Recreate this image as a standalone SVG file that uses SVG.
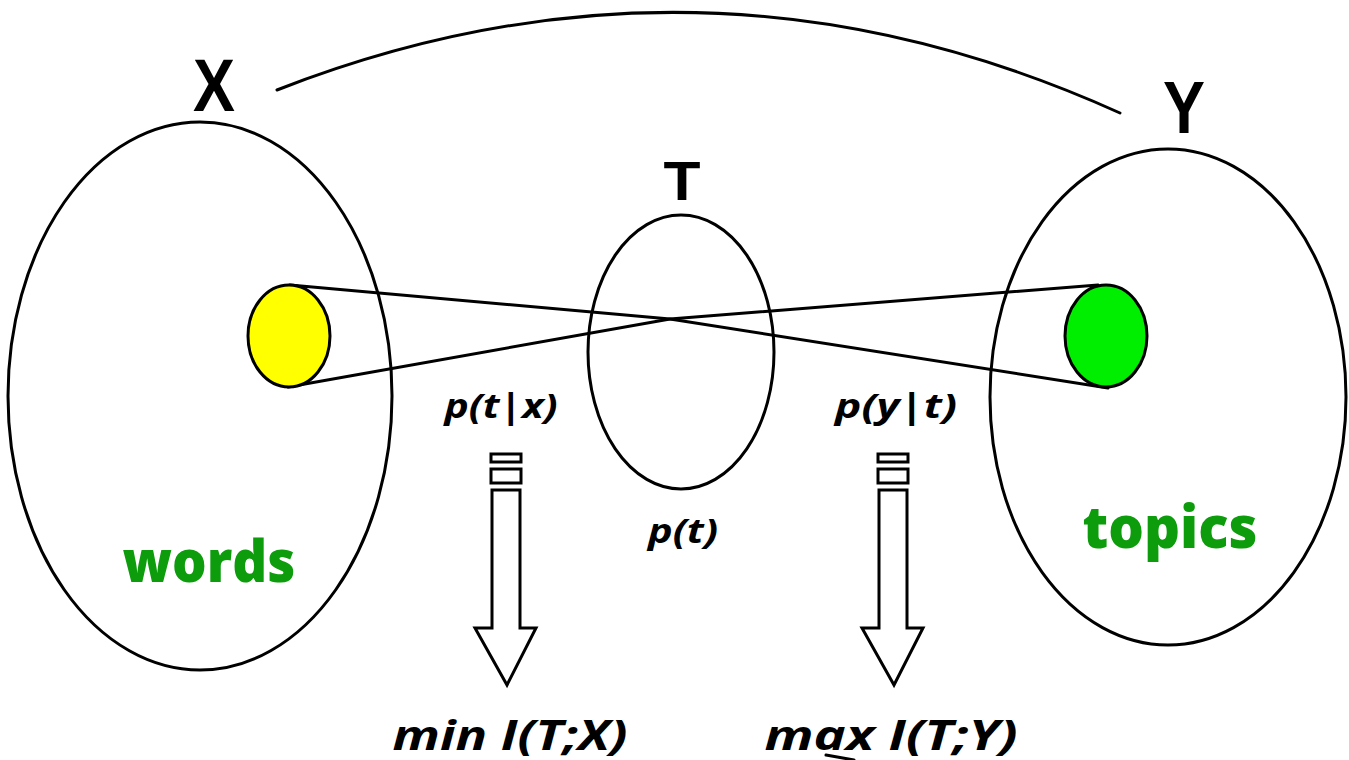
<svg xmlns="http://www.w3.org/2000/svg" width="1349" height="760" viewBox="0 0 1349 760">
  <style>
    .ln { fill: none; stroke: #000; stroke-width: 3; stroke-linejoin: round; stroke-linecap: round; }
    .set { fill: #fff; stroke: #000; stroke-width: 3; }
    .big { font-family: "Liberation Sans", Arial, sans-serif; font-weight: bold; text-anchor: middle; fill: #000; }
    .grn { font-family: "Open Sans", "Liberation Sans", sans-serif; font-weight: 800; font-size: 58px; text-anchor: middle; fill: #0c9c0c; }
    .prob { font-family: "Open Sans", "Liberation Sans", sans-serif; font-weight: bold; font-style: italic; font-size: 34px; text-anchor: middle; fill: #000; }
    .obj { font-family: "Open Sans", "Liberation Sans", sans-serif; font-weight: bold; font-style: italic; font-size: 42px; text-anchor: middle; fill: #000; }
    .arr { fill: #fff; stroke: #000; stroke-width: 3; stroke-linejoin: miter; }
  </style>

  <!-- sets -->
  <g id="setX">
    <ellipse class="set" cx="200" cy="396" rx="192" ry="274"/>
    <text class="big" x="214" y="111" font-size="74" textLength="42" lengthAdjust="spacingAndGlyphs">X</text>
    <text class="grn" x="209" y="582" textLength="173" lengthAdjust="spacingAndGlyphs">words</text>
  </g>
  <g id="setY">
    <ellipse class="set" cx="1168" cy="397" rx="178" ry="248"/>
    <text class="big" x="1184" y="133" font-size="74" textLength="42" lengthAdjust="spacingAndGlyphs">Y</text>
    <text class="grn" x="1170" y="548" textLength="175" lengthAdjust="spacingAndGlyphs">topics</text>
  </g>
  <g id="setT">
    <ellipse class="set" cx="681" cy="352" rx="93" ry="137"/>
    <text class="big" x="682" y="200" font-size="56" textLength="37" lengthAdjust="spacingAndGlyphs">T</text>
    <text class="prob" x="683" y="543" textLength="70" lengthAdjust="spacingAndGlyphs">p(t)</text>
  </g>

  <!-- connectors -->
  <g id="connectors">
    <path class="ln" d="M277,90 Q702,-76 1120,113"/>
    <polyline class="ln" points="290,285 670,319 1108,388"/>
    <polyline class="ln" points="288,387 670,319 1098,285"/>
  </g>

  <g id="nodeX">
    <ellipse cx="289" cy="336" rx="41" ry="51" fill="#ffff00" stroke="#000" stroke-width="3"/>
  </g>
  <g id="nodeY">
    <ellipse cx="1106" cy="336" rx="41" ry="51" fill="#00ee00" stroke="#000" stroke-width="3"/>
  </g>

  <!-- encoder / decoder arrows -->
  <g id="arrowEnc">
    <text class="prob" x="501" y="418" textLength="113" lengthAdjust="spacingAndGlyphs">p(t|x)</text>
    <rect class="arr" x="491" y="454" width="30" height="8"/>
    <rect class="arr" x="491" y="469" width="30" height="14"/>
    <path class="arr" d="M492,490 L520,490 L520,628 L536,628 L507,685 L475,628 L492,628 Z"/>
    <text class="obj" x="510" y="750" textLength="235" lengthAdjust="spacingAndGlyphs">min I(T;X)</text>
  </g>
  <g id="arrowDec">
    <text class="prob" x="896" y="418" textLength="122" lengthAdjust="spacingAndGlyphs">p(y|t)</text>
    <rect class="arr" x="878" y="454" width="30" height="8"/>
    <rect class="arr" x="878" y="469" width="30" height="14"/>
    <path class="arr" d="M879,490 L907,490 L907,628 L923,628 L894,685 L862,628 L879,628 Z"/>
    <text class="obj" x="891" y="750" textLength="253" lengthAdjust="spacingAndGlyphs">max I(T;Y)</text>
    <line class="ln" x1="826" y1="755" x2="854" y2="760" stroke-width="2.5"/>
  </g>
</svg>
